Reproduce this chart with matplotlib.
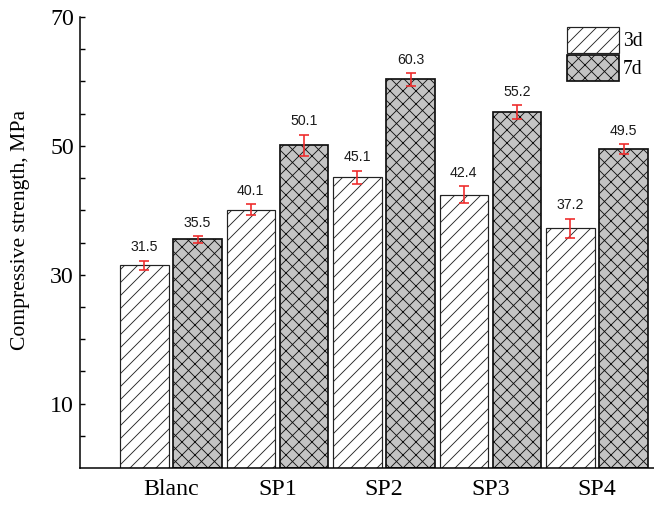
import matplotlib
matplotlib.use("Agg")
import matplotlib.pyplot as plt
import numpy as np
from matplotlib.ticker import FixedLocator

categories = ["Blanc", "SP1", "SP2", "SP3", "SP4"]
series_names = ["3d", "7d"]
values_3d = [31.5, 40.1, 45.1, 42.4, 37.2]
values_7d = [35.5, 50.1, 60.3, 55.2, 49.5]
err_3d = [0.7, 0.8, 1.0, 1.3, 1.5]
err_7d = [0.5, 1.6, 1.0, 1.1, 0.75]
major_yticks = [10, 30, 50, 70]
minor_yticks = [5, 15, 20, 25, 35, 40, 45, 55, 60, 65]

DPI = 78
plt.rcParams["hatch.linewidth"] = 0.8
fig = plt.figure(figsize=(654 / DPI, 509 / DPI), dpi=DPI)
W, H = 654, 509
ax = fig.add_axes([80 / W, (509 - 468) / H, (654 - 80) / W, (468 - 17) / H])

x = np.arange(len(categories))
off = 0.25
width = 0.455
serif = "Liberation Serif"
sans = "Liberation Sans"

b1 = ax.bar(x - off, values_3d, width, color="white", edgecolor="#222222",
            hatch="//", linewidth=1.1, label=series_names[0], zorder=2)
b2 = ax.bar(x + off, values_7d, width, color="#c4c4c4", edgecolor="#111111",
            hatch="xx", linewidth=1.6, label=series_names[1], zorder=2)

ax.errorbar(x - off, values_3d, yerr=err_3d, fmt="none", ecolor="#ee2a2a",
            elinewidth=1.5, capsize=5, capthick=1.5, zorder=3)
ax.errorbar(x + off, values_7d, yerr=err_7d, fmt="none", ecolor="#ee2a2a",
            elinewidth=1.5, capsize=5, capthick=1.5, zorder=3)

for xs, vals, errs in [(x - off, values_3d, err_3d), (x + off, values_7d, err_7d)]:
    for xi, v, e in zip(xs, vals, errs):
        ax.annotate(f"{v:.1f}", (xi, v + e), xytext=(0, 6), textcoords="offset points",
                    ha="center", va="bottom", fontsize=13, family=sans, color="#1a1a1a")

ax.set_xlim(-0.854, 4.535)
ax.set_ylim(0, 70)
ax.set_xticks(x)
ax.set_xticklabels(categories, family=serif, fontsize=22)
ax.tick_params(axis="x", length=0, pad=10)
ax.yaxis.set_major_locator(FixedLocator(major_yticks))
ax.yaxis.set_minor_locator(FixedLocator(minor_yticks))
ax.set_yticklabels([str(t) for t in major_yticks], family=serif, fontsize=22)
ax.tick_params(axis="y", which="both", direction="in", length=4.8, width=1.3, pad=5.5)

for s in ["top", "right"]:
    ax.spines[s].set_visible(False)
for s in ["left", "bottom"]:
    ax.spines[s].set_linewidth(1.4)

ax.set_ylabel("Compressive strength, MPa", family=serif, fontsize=20)
ax.yaxis.set_label_coords(-0.087, 0.528)

leg = ax.legend(loc="upper left", bbox_to_anchor=((567 - 80) / 574, (468 - 27) / 451),
                frameon=False, borderaxespad=0, borderpad=0, prop={"family": serif, "size": 18},
                handlelength=2.67, handleheight=1.65, labelspacing=0.12, handletextpad=0.2)

fig.savefig("out.png", dpi=DPI)
